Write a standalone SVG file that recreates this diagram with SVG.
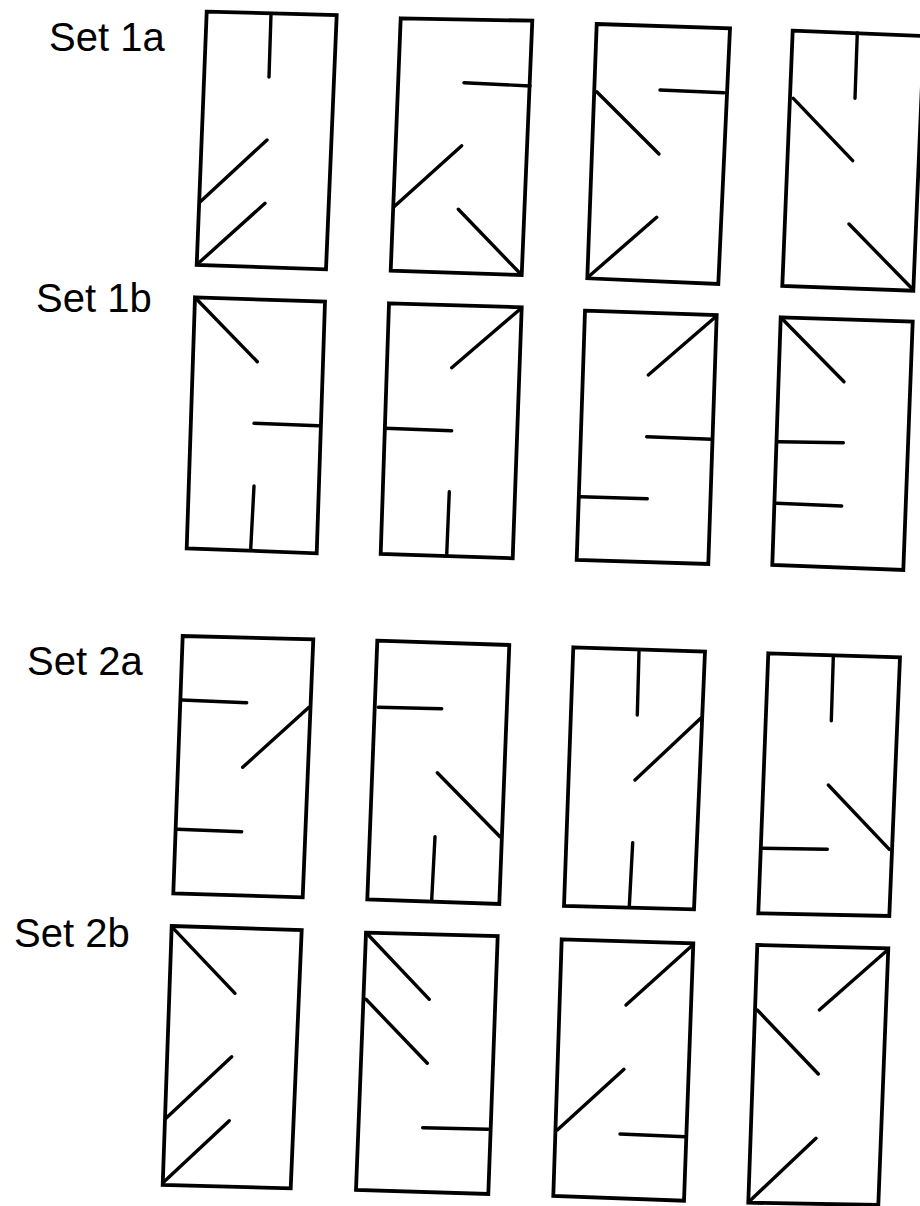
<svg xmlns="http://www.w3.org/2000/svg" width="920" height="1206" viewBox="0 0 920 1206">
<style>
.b{fill:none;stroke:#000;stroke-width:3.8;stroke-linejoin:miter}
.l{stroke:#000;stroke-width:3.4;stroke-linecap:round}
.t{font-family:"Liberation Sans",Arial,sans-serif;font-size:40px;fill:#000}
</style>
<rect width="920" height="1206" fill="#fff"/>
<g id="labels">
<text class="t" x="49" y="51">Set 1a</text>
<text class="t" x="36" y="312">Set 1b</text>
<text class="t" x="27" y="675">Set 2a</text>
<text class="t" x="14" y="947">Set 2b</text>
</g>
<g id="set1a-1"><polygon class="b" points="206.7,11.7 336.7,15 326,269.3 196.7,265"/>
<line class="l" x1="271" y1="14" x2="269" y2="77"/><line class="l" x1="200" y1="202" x2="267" y2="140"/><line class="l" x1="198.3" y1="263.3" x2="265" y2="203.3"/></g>
<g id="set1a-2"><polygon class="b" points="400.7,18.3 532.3,20.7 521.7,275 390.7,270.7"/>
<line class="l" x1="464" y1="82.7" x2="530" y2="86"/><line class="l" x1="394" y1="206.7" x2="461.7" y2="145.7"/><line class="l" x1="520" y1="273.3" x2="458.3" y2="209.3"/></g>
<g id="set1a-3"><polygon class="b" points="596.7,24 730,28.3 718.3,284 587.3,278.3"/>
<line class="l" x1="660" y1="90" x2="724" y2="92.7"/><line class="l" x1="596.7" y1="91.7" x2="659" y2="154"/><line class="l" x1="589.3" y1="276" x2="656.7" y2="217.3"/></g>
<g id="set1a-4"><polygon class="b" points="792.7,30.7 924,36 913.3,290.7 782.3,286"/>
<line class="l" x1="857.3" y1="33" x2="855" y2="98.3"/><line class="l" x1="793.3" y1="98.3" x2="852.7" y2="160.7"/><line class="l" x1="911.7" y1="288.3" x2="849" y2="224"/></g>
<g id="set1b-1"><polygon class="b" points="195,297.3 325,301.7 316.7,553.3 186.7,548.3"/>
<line class="l" x1="196.7" y1="299.3" x2="257.3" y2="361.7"/><line class="l" x1="254" y1="423.3" x2="318.3" y2="425.7"/><line class="l" x1="250.7" y1="549.3" x2="254" y2="486"/></g>
<g id="set1b-2"><polygon class="b" points="389,303.3 521.7,307.3 512.7,558.3 380.7,554"/>
<line class="l" x1="520" y1="309.3" x2="451.7" y2="367.7"/><line class="l" x1="385" y1="428.3" x2="451.7" y2="430.7"/><line class="l" x1="446.7" y1="555" x2="449.3" y2="491.7"/></g>
<g id="set1b-3"><polygon class="b" points="585,310.7 716.7,315 708.3,564 576.7,560"/>
<line class="l" x1="715.7" y1="316.7" x2="648.3" y2="375"/><line class="l" x1="646.7" y1="436.7" x2="711.7" y2="439.3"/><line class="l" x1="580.7" y1="496.7" x2="647.3" y2="498.7"/></g>
<g id="set1b-4"><polygon class="b" points="780.7,317.3 912.7,321.7 903.3,570 772.3,565"/>
<line class="l" x1="783.3" y1="320" x2="844" y2="381.7"/><line class="l" x1="778.3" y1="441.7" x2="843.3" y2="442.7"/><line class="l" x1="776.7" y1="503.3" x2="841.7" y2="506"/></g>
<g id="set2a-1"><polygon class="b" points="182.7,636 313.3,639.3 302.7,897.3 173.3,893.3"/>
<line class="l" x1="181.7" y1="700" x2="246.7" y2="702.7"/><line class="l" x1="309" y1="707.3" x2="242.7" y2="767.3"/><line class="l" x1="177.3" y1="829.3" x2="241.7" y2="831.7"/></g>
<g id="set2a-2"><polygon class="b" points="377.3,640.7 509.3,645 499.3,904 367.3,899.3"/>
<line class="l" x1="378.3" y1="707.3" x2="441.7" y2="708.7"/><line class="l" x1="500" y1="836.7" x2="437.3" y2="772.7"/><line class="l" x1="431.7" y1="900" x2="435" y2="836.7"/></g>
<g id="set2a-3"><polygon class="b" points="573.3,647.3 705,651.7 694,909.3 564,906"/>
<line class="l" x1="639" y1="651.7" x2="637.3" y2="715"/><line class="l" x1="700.7" y1="718.3" x2="635" y2="780"/><line class="l" x1="629.3" y1="906.7" x2="632.7" y2="842.7"/></g>
<g id="set2a-4"><polygon class="b" points="768.3,653.3 900,657.3 889.3,916 758.3,913.3"/>
<line class="l" x1="833.3" y1="657.3" x2="831.3" y2="720.7"/><line class="l" x1="889.3" y1="849.3" x2="828.3" y2="785"/><line class="l" x1="761.7" y1="848.3" x2="827.3" y2="849.3"/></g>
<g id="set2b-1"><polygon class="b" points="171.7,926 301.7,930 290.7,1188.3 162.7,1185"/>
<line class="l" x1="173.3" y1="928.3" x2="235" y2="993.3"/><line class="l" x1="166" y1="1118.3" x2="231.7" y2="1056.7"/><line class="l" x1="164" y1="1181.7" x2="229.3" y2="1120.7"/></g>
<g id="set2b-2"><polygon class="b" points="366,932.7 497.7,936 488.3,1194 356,1190"/>
<line class="l" x1="368.3" y1="935" x2="429.3" y2="999.3"/><line class="l" x1="366" y1="999.3" x2="427.3" y2="1063.3"/><line class="l" x1="488.3" y1="1129.3" x2="422.7" y2="1127.7"/></g>
<g id="set2b-3"><polygon class="b" points="561.7,939.3 693.3,943.3 684,1200.7 553.3,1196"/>
<line class="l" x1="692.7" y1="945" x2="626" y2="1005"/><line class="l" x1="557.3" y1="1130" x2="624" y2="1069.3"/><line class="l" x1="685" y1="1136.7" x2="620" y2="1134"/></g>
<g id="set2b-4"><polygon class="b" points="757.3,945 888.3,948.3 878.3,1205 748.3,1202.7"/>
<line class="l" x1="886.7" y1="950.7" x2="819.3" y2="1010"/><line class="l" x1="757.3" y1="1010" x2="818.3" y2="1074"/><line class="l" x1="750" y1="1200.7" x2="816" y2="1138.3"/></g>
</svg>
